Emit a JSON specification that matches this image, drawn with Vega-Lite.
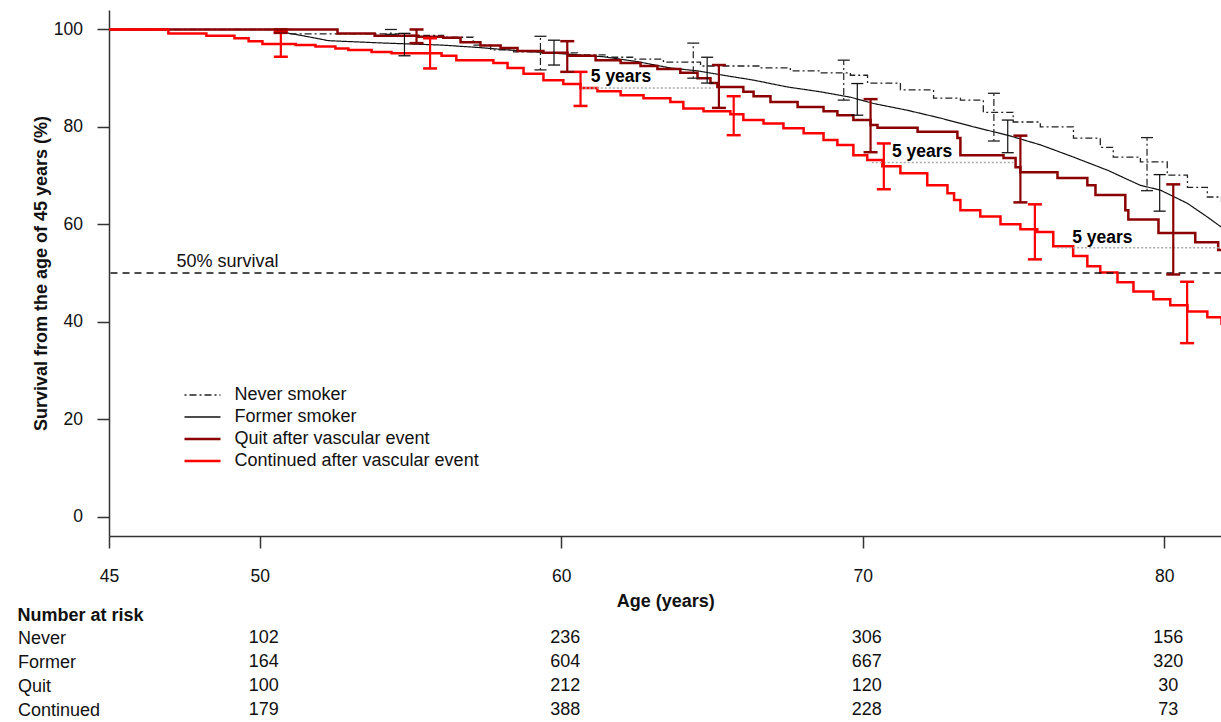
{
  "$schema": "https://vega.github.io/schema/vega-lite/v6.json",
  "padding": {"left": 17, "top": 10, "right": 0, "bottom": 0},
  "autosize": {"type": "pad"},
  "bounds": "flush",
  "spacing": 90,
  "config": {
    "font": "Liberation Sans",
    "view": {"stroke": null},
    "axis": {"grid": false, "domainColor": "#333333", "tickColor": "#333333", "domainWidth": 1.5, "tickWidth": 1.5, "labelColor": "#111111", "titleColor": "#111111", "labelFont": "Liberation Sans", "titleFont": "Liberation Sans"}
  },
  "datasets": {
    "curves": [
      {"group": "Never smoker", "age": 45, "surv": 100},
      {"group": "Never smoker", "age": 51.02, "surv": 99.1},
      {"group": "Never smoker", "age": 54.6, "surv": 98.8},
      {"group": "Never smoker", "age": 56.09, "surv": 98.4},
      {"group": "Never smoker", "age": 57.08, "surv": 96.8},
      {"group": "Never smoker", "age": 57.66, "surv": 95.8},
      {"group": "Never smoker", "age": 58.42, "surv": 95.4},
      {"group": "Never smoker", "age": 59.31, "surv": 95.2},
      {"group": "Never smoker", "age": 60.54, "surv": 94.8},
      {"group": "Never smoker", "age": 61.53, "surv": 94.3},
      {"group": "Never smoker", "age": 62.4, "surv": 93.9},
      {"group": "Never smoker", "age": 63.39, "surv": 93.3},
      {"group": "Never smoker", "age": 64.62, "surv": 92.5},
      {"group": "Never smoker", "age": 66.61, "surv": 92.1},
      {"group": "Never smoker", "age": 67.6, "surv": 91.5},
      {"group": "Never smoker", "age": 68.6, "surv": 91.1},
      {"group": "Never smoker", "age": 69.59, "surv": 90.6},
      {"group": "Never smoker", "age": 70.16, "surv": 89.0},
      {"group": "Never smoker", "age": 71.25, "surv": 87.6},
      {"group": "Never smoker", "age": 72.35, "surv": 85.9},
      {"group": "Never smoker", "age": 73.24, "surv": 85.5},
      {"group": "Never smoker", "age": 74.0, "surv": 83.0},
      {"group": "Never smoker", "age": 74.99, "surv": 81.0},
      {"group": "Never smoker", "age": 75.89, "surv": 80.0},
      {"group": "Never smoker", "age": 76.99, "surv": 77.7},
      {"group": "Never smoker", "age": 77.88, "surv": 75.8},
      {"group": "Never smoker", "age": 78.31, "surv": 73.8},
      {"group": "Never smoker", "age": 79.21, "surv": 72.8},
      {"group": "Never smoker", "age": 80.1, "surv": 70.1},
      {"group": "Never smoker", "age": 80.77, "surv": 67.6},
      {"group": "Never smoker", "age": 81.43, "surv": 65.6},
      {"group": "Never smoker", "age": 81.9, "surv": 64.6},
      {"group": "Former smoker", "age": 45, "surv": 100},
      {"group": "Former smoker", "age": 50.6, "surv": 100},
      {"group": "Former smoker", "age": 50.72, "surv": 99.5},
      {"group": "Former smoker", "age": 51.62, "surv": 98.5},
      {"group": "Former smoker", "age": 52.28, "surv": 97.7},
      {"group": "Former smoker", "age": 54.17, "surv": 97.2},
      {"group": "Former smoker", "age": 56.03, "surv": 96.8},
      {"group": "Former smoker", "age": 57.26, "surv": 96.3},
      {"group": "Former smoker", "age": 58.65, "surv": 95.6},
      {"group": "Former smoker", "age": 60.31, "surv": 94.9},
      {"group": "Former smoker", "age": 61.4, "surv": 94.4},
      {"group": "Former smoker", "age": 62.53, "surv": 93.4},
      {"group": "Former smoker", "age": 63.62, "surv": 92.1},
      {"group": "Former smoker", "age": 64.52, "surv": 91.5},
      {"group": "Former smoker", "age": 65.38, "surv": 90.6},
      {"group": "Former smoker", "age": 66.38, "surv": 89.6},
      {"group": "Former smoker", "age": 67.5, "surv": 88.2},
      {"group": "Former smoker", "age": 68.6, "surv": 87.2},
      {"group": "Former smoker", "age": 69.59, "surv": 86.1},
      {"group": "Former smoker", "age": 70.36, "surv": 84.8},
      {"group": "Former smoker", "age": 71.49, "surv": 83.4},
      {"group": "Former smoker", "age": 72.58, "surv": 81.8},
      {"group": "Former smoker", "age": 73.68, "surv": 80.0},
      {"group": "Former smoker", "age": 74.8, "surv": 78.3},
      {"group": "Former smoker", "age": 75.9, "surv": 76.3},
      {"group": "Former smoker", "age": 76.99, "surv": 73.8},
      {"group": "Former smoker", "age": 78.12, "surv": 71.1},
      {"group": "Former smoker", "age": 79.21, "surv": 68.0},
      {"group": "Former smoker", "age": 79.88, "surv": 67.0},
      {"group": "Former smoker", "age": 80.77, "surv": 64.3},
      {"group": "Former smoker", "age": 81.43, "surv": 61.5},
      {"group": "Former smoker", "age": 81.9, "surv": 59.4},
      {"group": "Quit after vascular event", "age": 45, "surv": 100},
      {"group": "Quit after vascular event", "age": 52.58, "surv": 99.2},
      {"group": "Quit after vascular event", "age": 53.81, "surv": 98.7},
      {"group": "Quit after vascular event", "age": 55.24, "surv": 98.5},
      {"group": "Quit after vascular event", "age": 56.09, "surv": 98.3},
      {"group": "Quit after vascular event", "age": 56.66, "surv": 97.4},
      {"group": "Quit after vascular event", "age": 57.32, "surv": 96.7},
      {"group": "Quit after vascular event", "age": 57.99, "surv": 96.2},
      {"group": "Quit after vascular event", "age": 58.55, "surv": 95.6},
      {"group": "Quit after vascular event", "age": 59.41, "surv": 95.2},
      {"group": "Quit after vascular event", "age": 60.21, "surv": 94.6},
      {"group": "Quit after vascular event", "age": 61.14, "surv": 93.7},
      {"group": "Quit after vascular event", "age": 61.97, "surv": 93.1},
      {"group": "Quit after vascular event", "age": 62.63, "surv": 92.5},
      {"group": "Quit after vascular event", "age": 63.19, "surv": 91.9},
      {"group": "Quit after vascular event", "age": 63.95, "surv": 91.1},
      {"group": "Quit after vascular event", "age": 64.52, "surv": 90.0},
      {"group": "Quit after vascular event", "age": 64.95, "surv": 89.0},
      {"group": "Quit after vascular event", "age": 65.18, "surv": 88.2},
      {"group": "Quit after vascular event", "age": 66.04, "surv": 87.2},
      {"group": "Quit after vascular event", "age": 66.38, "surv": 86.3},
      {"group": "Quit after vascular event", "age": 66.94, "surv": 85.1},
      {"group": "Quit after vascular event", "age": 67.84, "surv": 84.1},
      {"group": "Quit after vascular event", "age": 68.7, "surv": 83.2},
      {"group": "Quit after vascular event", "age": 69.16, "surv": 82.4},
      {"group": "Quit after vascular event", "age": 69.69, "surv": 81.4},
      {"group": "Quit after vascular event", "age": 70.26, "surv": 80.4},
      {"group": "Quit after vascular event", "age": 70.49, "surv": 79.8},
      {"group": "Quit after vascular event", "age": 71.82, "surv": 79.0},
      {"group": "Quit after vascular event", "age": 73.14, "surv": 77.7},
      {"group": "Quit after vascular event", "age": 73.24, "surv": 74.2},
      {"group": "Quit after vascular event", "age": 74.67, "surv": 73.6},
      {"group": "Quit after vascular event", "age": 75.07, "surv": 71.7},
      {"group": "Quit after vascular event", "age": 75.23, "surv": 70.7},
      {"group": "Quit after vascular event", "age": 76.46, "surv": 69.5},
      {"group": "Quit after vascular event", "age": 77.45, "surv": 68.0},
      {"group": "Quit after vascular event", "age": 77.72, "surv": 66.0},
      {"group": "Quit after vascular event", "age": 78.71, "surv": 62.9},
      {"group": "Quit after vascular event", "age": 78.81, "surv": 61.0},
      {"group": "Quit after vascular event", "age": 79.81, "surv": 58.2},
      {"group": "Quit after vascular event", "age": 81.03, "surv": 56.3},
      {"group": "Quit after vascular event", "age": 81.79, "surv": 54.7},
      {"group": "Quit after vascular event", "age": 81.9, "surv": 54.7},
      {"group": "Continued after vascular event", "age": 45, "surv": 100},
      {"group": "Continued after vascular event", "age": 46.97, "surv": 99.2},
      {"group": "Continued after vascular event", "age": 48.23, "surv": 98.7},
      {"group": "Continued after vascular event", "age": 49.16, "surv": 98.2},
      {"group": "Continued after vascular event", "age": 49.63, "surv": 97.6},
      {"group": "Continued after vascular event", "age": 50.09, "surv": 97.0},
      {"group": "Continued after vascular event", "age": 51.19, "surv": 96.8},
      {"group": "Continued after vascular event", "age": 51.85, "surv": 96.5},
      {"group": "Continued after vascular event", "age": 52.51, "surv": 96.1},
      {"group": "Continued after vascular event", "age": 52.94, "surv": 95.8},
      {"group": "Continued after vascular event", "age": 53.71, "surv": 95.4},
      {"group": "Continued after vascular event", "age": 54.37, "surv": 95.1},
      {"group": "Continued after vascular event", "age": 56.03, "surv": 94.6},
      {"group": "Continued after vascular event", "age": 56.52, "surv": 93.7},
      {"group": "Continued after vascular event", "age": 57.75, "surv": 93.1},
      {"group": "Continued after vascular event", "age": 58.22, "surv": 92.1},
      {"group": "Continued after vascular event", "age": 58.75, "surv": 90.9},
      {"group": "Continued after vascular event", "age": 59.41, "surv": 89.6},
      {"group": "Continued after vascular event", "age": 60.07, "surv": 88.8},
      {"group": "Continued after vascular event", "age": 60.64, "surv": 88.0},
      {"group": "Continued after vascular event", "age": 61.2, "surv": 87.3},
      {"group": "Continued after vascular event", "age": 61.97, "surv": 86.5},
      {"group": "Continued after vascular event", "age": 62.73, "surv": 85.9},
      {"group": "Continued after vascular event", "age": 63.62, "surv": 85.1},
      {"group": "Continued after vascular event", "age": 64.05, "surv": 83.8},
      {"group": "Continued after vascular event", "age": 64.72, "surv": 83.2},
      {"group": "Continued after vascular event", "age": 65.61, "surv": 82.6},
      {"group": "Continued after vascular event", "age": 66.04, "surv": 81.4},
      {"group": "Continued after vascular event", "age": 66.71, "surv": 80.7},
      {"group": "Continued after vascular event", "age": 67.37, "surv": 79.7},
      {"group": "Continued after vascular event", "age": 68.04, "surv": 78.7},
      {"group": "Continued after vascular event", "age": 68.7, "surv": 77.3},
      {"group": "Continued after vascular event", "age": 69.16, "surv": 76.3},
      {"group": "Continued after vascular event", "age": 69.69, "surv": 74.2},
      {"group": "Continued after vascular event", "age": 70.15, "surv": 73.2},
      {"group": "Continued after vascular event", "age": 70.65, "surv": 71.9},
      {"group": "Continued after vascular event", "age": 71.25, "surv": 70.5},
      {"group": "Continued after vascular event", "age": 72.14, "surv": 68.0},
      {"group": "Continued after vascular event", "age": 72.81, "surv": 66.4},
      {"group": "Continued after vascular event", "age": 73.03, "surv": 65.0},
      {"group": "Continued after vascular event", "age": 73.24, "surv": 62.9},
      {"group": "Continued after vascular event", "age": 73.9, "surv": 61.6},
      {"group": "Continued after vascular event", "age": 74.57, "surv": 60.0},
      {"group": "Continued after vascular event", "age": 75.23, "surv": 59.0},
      {"group": "Continued after vascular event", "age": 75.79, "surv": 58.4},
      {"group": "Continued after vascular event", "age": 76.32, "surv": 55.5},
      {"group": "Continued after vascular event", "age": 76.98, "surv": 53.5},
      {"group": "Continued after vascular event", "age": 77.45, "surv": 51.4},
      {"group": "Continued after vascular event", "age": 77.88, "surv": 50.1},
      {"group": "Continued after vascular event", "age": 78.45, "surv": 48.1},
      {"group": "Continued after vascular event", "age": 78.98, "surv": 46.2},
      {"group": "Continued after vascular event", "age": 79.64, "surv": 44.6},
      {"group": "Continued after vascular event", "age": 80.2, "surv": 43.4},
      {"group": "Continued after vascular event", "age": 80.77, "surv": 42.1},
      {"group": "Continued after vascular event", "age": 81.43, "surv": 40.9},
      {"group": "Continued after vascular event", "age": 81.9, "surv": 39.3}
    ],
    "bars": [
      {"group": "Never smoker", "age": 54.35, "low": 99.0, "high": 100.0},
      {"group": "Never smoker", "age": 59.31, "low": 91.7, "high": 98.6},
      {"group": "Never smoker", "age": 64.38, "low": 90.0, "high": 97.2},
      {"group": "Never smoker", "age": 69.37, "low": 85.5, "high": 93.7},
      {"group": "Never smoker", "age": 74.35, "low": 77.1, "high": 86.9},
      {"group": "Never smoker", "age": 79.43, "low": 66.9, "high": 77.8},
      {"group": "Former smoker", "age": 54.8, "low": 94.6, "high": 99.2},
      {"group": "Former smoker", "age": 59.76, "low": 92.7, "high": 97.8},
      {"group": "Former smoker", "age": 64.84, "low": 89.0, "high": 94.3},
      {"group": "Former smoker", "age": 69.82, "low": 82.4, "high": 88.9},
      {"group": "Former smoker", "age": 74.81, "low": 74.7, "high": 81.4},
      {"group": "Former smoker", "age": 79.85, "low": 62.7, "high": 70.2},
      {"group": "Continued after vascular event", "age": 50.7, "low": 94.4, "high": 99.6},
      {"group": "Continued after vascular event", "age": 55.65, "low": 92.0, "high": 98.2},
      {"group": "Continued after vascular event", "age": 60.64, "low": 84.3, "high": 91.3},
      {"group": "Continued after vascular event", "age": 65.72, "low": 78.3, "high": 86.3},
      {"group": "Continued after vascular event", "age": 70.7, "low": 67.2, "high": 76.6},
      {"group": "Continued after vascular event", "age": 75.71, "low": 52.8, "high": 64.1},
      {"group": "Continued after vascular event", "age": 80.76, "low": 35.6, "high": 48.2},
      {"group": "Quit after vascular event", "age": 50.69, "low": 99.3, "high": 100.0},
      {"group": "Quit after vascular event", "age": 55.2, "low": 97.2, "high": 100.0},
      {"group": "Quit after vascular event", "age": 60.2, "low": 91.3, "high": 97.6},
      {"group": "Quit after vascular event", "age": 65.23, "low": 83.9, "high": 92.7},
      {"group": "Quit after vascular event", "age": 70.26, "low": 74.8, "high": 85.7},
      {"group": "Quit after vascular event", "age": 75.23, "low": 64.5, "high": 78.2},
      {"group": "Quit after vascular event", "age": 80.3, "low": 49.7, "high": 68.2}
    ],
    "fiveyears": [
      {"label": "5 years", "tx": 60.98, "ty": 90.2, "x1": 60.65, "x2": 65.05, "s": 88.0},
      {"label": "5 years", "tx": 70.97, "ty": 74.9, "x1": 70.3, "x2": 75.0, "s": 72.7},
      {"label": "5 years", "tx": 76.95, "ty": 57.2, "x1": 76.45, "x2": 81.9, "s": 55.2}
    ],
    "ref": [
      {"label": "50% survival", "age": 47.24, "surv": 52.2}
    ],
    "risk": [
      {"row": "Never", "age": 50, "n": 102},
      {"row": "Never", "age": 60, "n": 236},
      {"row": "Never", "age": 70, "n": 306},
      {"row": "Never", "age": 80, "n": 156},
      {"row": "Former", "age": 50, "n": 164},
      {"row": "Former", "age": 60, "n": 604},
      {"row": "Former", "age": 70, "n": 667},
      {"row": "Former", "age": 80, "n": 320},
      {"row": "Quit", "age": 50, "n": 100},
      {"row": "Quit", "age": 60, "n": 212},
      {"row": "Quit", "age": 70, "n": 120},
      {"row": "Quit", "age": 80, "n": 30},
      {"row": "Continued", "age": 50, "n": 179},
      {"row": "Continued", "age": 60, "n": 388},
      {"row": "Continued", "age": 70, "n": 228},
      {"row": "Continued", "age": 80, "n": 73}
    ]
  },
  "vconcat": [
    {
      "width": 1112.5,
      "height": 526,
      "encoding": {
        "x": {"field": "age", "type": "quantitative", "scale": {"domain": [45, 81.9], "nice": false, "zero": false},
          "axis": {"values": [45, 50, 60, 70, 80], "tickSize": 12, "labelFontSize": 17.5, "labelPadding": 19, "labelFlush": false, "labelOverlap": false, "title": "Age (years)", "titleFontSize": 18, "titleFontWeight": "bold", "titlePadding": 8}},
        "y": {"field": "surv", "type": "quantitative", "scale": {"domain": [-4, 104], "nice": false, "zero": false},
          "axis": {"values": [0, 20, 40, 60, 80, 100], "tickSize": 12, "labelFontSize": 17.5, "labelPadding": 14.5, "title": "Survival from the age of 45 years (%)", "titleFontSize": 18, "titleFontWeight": "bold", "titlePadding": 3}}
      },
      "layer": [
        {
          "data": {"name": "curves"},
          "transform": [{"filter": "datum.group === 'Former smoker'"}],
          "mark": {"type": "line", "interpolate": "linear", "strokeCap": "butt"},
          "encoding": {
            "color": {"field": "group", "type": "nominal", "scale": {"domain": ["Never smoker", "Former smoker", "Quit after vascular event", "Continued after vascular event"], "range": ["#222222", "#111111", "#8b0000", "#ff0000"]},
              "legend": {"title": null, "orient": "none", "legendX": 74.5, "legendY": 376, "symbolType": "stroke", "symbolSize": 1296, "labelFontSize": 18, "labelFontWeight": "normal", "labelLimit": 0, "labelOffset": 13, "rowPadding": 4, "clipHeight": 18, "padding": 0, "labelColor": "#111111", "labelFont": "Liberation Sans",
                "encode": {"symbols": {"update": {"strokeWidth": {"signal": "(indexof(['Quit after vascular event', 'Continued after vascular event'], datum.value) >= 0 ? 2.5 : 1.3)"}}}}}},
            "strokeDash": {"field": "group", "type": "nominal", "scale": {"domain": ["Never smoker", "Former smoker", "Quit after vascular event", "Continued after vascular event"], "range": [[2, 3, 7, 3], [1, 0], [1, 0], [1, 0]]},
              "legend": {"title": null, "orient": "none", "legendX": 74.5, "legendY": 376, "symbolType": "stroke", "symbolSize": 1296, "labelFontSize": 18, "labelFontWeight": "normal", "labelLimit": 0, "labelOffset": 13, "rowPadding": 4, "clipHeight": 18, "padding": 0, "labelColor": "#111111", "labelFont": "Liberation Sans",
                "encode": {"symbols": {"update": {"strokeWidth": {"signal": "(indexof(['Quit after vascular event', 'Continued after vascular event'], datum.value) >= 0 ? 2.5 : 1.3)"}}}}}},
            "strokeWidth": {"value": 1.2}
          }
        },
        {
          "data": {"name": "curves"},
          "transform": [{"filter": "datum.group !== 'Former smoker'"}],
          "mark": {"type": "line", "interpolate": "step-after", "strokeCap": "butt"},
          "encoding": {
            "color": {"field": "group", "type": "nominal"},
            "strokeDash": {"field": "group", "type": "nominal"},
            "strokeWidth": {"condition": {"test": "datum.group === 'Quit after vascular event' || datum.group === 'Continued after vascular event'", "value": 2.5}, "value": 1.3}
          }
        },
        {
          "data": {"name": "ref"},
          "mark": {"type": "rule", "color": "#111111", "strokeWidth": 1.5, "strokeDash": [7, 5]},
          "encoding": {"x": null, "y": {"datum": 50}}
        },
        {
          "data": {"name": "ref"},
          "mark": {"type": "text", "align": "left", "baseline": "middle", "fontSize": 18, "color": "#111111", "font": "Liberation Sans"},
          "encoding": {"text": {"field": "label"}}
        },
        {
          "data": {"name": "fiveyears"},
          "mark": {"type": "rule", "color": "#aaaaaa", "strokeWidth": 1.5, "strokeDash": [2, 2]},
          "encoding": {"x": {"field": "x1", "type": "quantitative"}, "x2": {"field": "x2"}, "y": {"field": "s", "type": "quantitative"}}
        },
        {
          "data": {"name": "fiveyears"},
          "mark": {"type": "text", "align": "left", "baseline": "middle", "fontSize": 17.5, "fontWeight": "bold", "color": "#000000", "font": "Liberation Sans"},
          "encoding": {"x": {"field": "tx", "type": "quantitative"}, "y": {"field": "ty", "type": "quantitative"}, "text": {"field": "label"}}
        },
        {
          "data": {"name": "bars"},
          "mark": {"type": "rule", "strokeCap": "butt"},
          "encoding": {
            "y": {"field": "low", "type": "quantitative"},
            "y2": {"field": "high"},
            "color": {"field": "group", "type": "nominal"},
            "strokeDash": {"field": "group", "type": "nominal"},
            "strokeWidth": {"condition": {"test": "datum.group === 'Quit after vascular event' || datum.group === 'Continued after vascular event'", "value": 2.2}, "value": 1.2}
          }
        },
        {
          "data": {"name": "bars"},
          "transform": [{"fold": ["low", "high"], "as": ["end", "val"]}, {"filter": "datum.group === 'Never smoker' || datum.group === 'Former smoker'"}],
          "mark": {"type": "tick", "orient": "horizontal", "size": 12, "thickness": 1.3, "opacity": 1},
          "encoding": {
            "y": {"field": "val", "type": "quantitative"},
            "color": {"field": "group", "type": "nominal"}
          }
        },
        {
          "data": {"name": "bars"},
          "transform": [{"fold": ["low", "high"], "as": ["end", "val"]}, {"filter": "datum.group === 'Quit after vascular event' || datum.group === 'Continued after vascular event'"}],
          "mark": {"type": "tick", "orient": "horizontal", "size": 14, "thickness": 2.5, "opacity": 1},
          "encoding": {
            "y": {"field": "val", "type": "quantitative"},
            "color": {"field": "group", "type": "nominal"}
          }
        }
      ]
    },
    {
      "width": 1112.5,
      "height": 96,
      "title": {"text": "Number at risk", "anchor": "start", "frame": "group", "dx": -91.5, "dy": 19, "offset": 2, "baseline": "bottom", "fontSize": 18, "fontWeight": "bold", "font": "Liberation Sans", "color": "#111111"},
      "data": {"name": "risk"},
      "mark": {"type": "text", "fontSize": 18, "dx": 4, "color": "#111111", "font": "Liberation Sans"},
      "encoding": {
        "x": {"field": "age", "type": "quantitative", "scale": {"domain": [45, 81.9], "nice": false, "zero": false}, "axis": null},
        "y": {"field": "row", "type": "nominal", "sort": ["Never", "Former", "Quit", "Continued"], "scale": {"paddingInner": 0, "paddingOuter": 0},
          "axis": {"title": null, "domain": false, "ticks": false, "labelAlign": "left", "labelPadding": 91.5, "labelFontSize": 18, "labelColor": "#111111"}},
        "text": {"field": "n", "type": "quantitative"}
      }
    }
  ]
}
